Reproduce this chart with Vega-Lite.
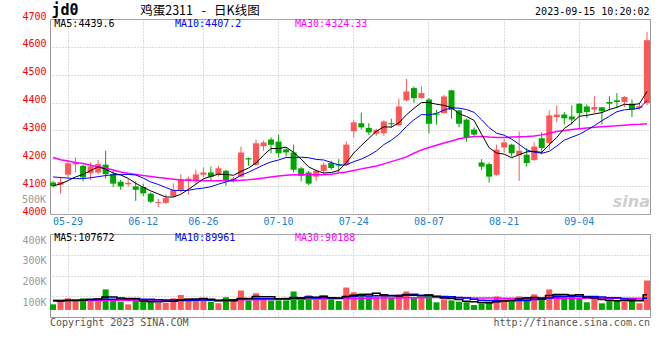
{
  "$schema": "https://vega.github.io/schema/vega-lite/v6.json",
  "autosize": {"type": "none"},
  "padding": {"left": 50, "top": 19, "right": 610, "bottom": 341},
  "background": "white",
  "bounds": "flush",
  "spacing": 20,
  "config": {
    "view": {"stroke": "#999999", "strokeWidth": 1},
    "axis": {"gridColor": "#b8b8b8", "gridDash": [1, 2], "gridWidth": 1, "ticks": false, "domain": false, "labelFont": "DejaVu Sans Mono", "labelFontSize": 10, "labelOverlap": false, "labelBound": false, "labelFlush": false},
    "text": {"font": "DejaVu Sans Mono", "fontSize": 10}
  },
  "datasets": {
    "k": [
      {"d":"05-25","o":4113,"h":4119,"l":4095,"c":4100,"v":61000,"m5":4101,"m10":4133,"m30":4203,"a5":78000,"a10":80000,"a30":80000},
      {"d":"05-26","o":4105,"h":4131,"l":4073,"c":4115,"v":80000,"m5":4108,"m10":4131,"m30":4195,"a5":77000,"a10":80000,"a30":80000},
      {"d":"05-29","o":4141,"h":4191,"l":4131,"c":4182,"v":90000,"m5":4120,"m10":4129,"m30":4190,"a5":79000,"a10":81000,"a30":80000},
      {"d":"05-30","o":4178,"h":4203,"l":4149,"c":4183,"v":85000,"m5":4133,"m10":4127,"m30":4185,"a5":80000,"a10":81000,"a30":80000},
      {"d":"05-31","o":4173,"h":4177,"l":4117,"c":4131,"v":90000,"m5":4142,"m10":4127,"m30":4181,"a5":81000,"a10":82000,"a30":80000},
      {"d":"06-01","o":4147,"h":4185,"l":4122,"c":4171,"v":80000,"m5":4156,"m10":4130,"m30":4175,"a5":85000,"a10":83000,"a30":80000},
      {"d":"06-02","o":4149,"h":4194,"l":4143,"c":4179,"v":90000,"m5":4169,"m10":4134,"m30":4170,"a5":87000,"a10":84000,"a30":80000},
      {"d":"06-05","o":4177,"h":4227,"l":4127,"c":4143,"v":133000,"m5":4161,"m10":4138,"m30":4165,"a5":96000,"a10":85000,"a30":81000},
      {"d":"06-06","o":4143,"h":4155,"l":4096,"c":4109,"v":85000,"m5":4147,"m10":4141,"m30":4158,"a5":96000,"a10":86000,"a30":81000},
      {"d":"06-07","o":4116,"h":4122,"l":4087,"c":4099,"v":74000,"m5":4140,"m10":4141,"m30":4151,"a5":92000,"a10":87000,"a30":81000},
      {"d":"06-08","o":4107,"h":4125,"l":4099,"c":4112,"v":61000,"m5":4128,"m10":4142,"m30":4146,"a5":89000,"a10":87000,"a30":81000},
      {"d":"06-09","o":4099,"h":4117,"l":4047,"c":4087,"v":90000,"m5":4110,"m10":4140,"m30":4142,"a5":89000,"a10":88000,"a30":81000},
      {"d":"06-12","o":4097,"h":4109,"l":4064,"c":4074,"v":75000,"m5":4096,"m10":4129,"m30":4138,"a5":77000,"a10":86000,"a30":81000},
      {"d":"06-13","o":4073,"h":4077,"l":4040,"c":4044,"v":75000,"m5":4083,"m10":4115,"m30":4135,"a5":75000,"a10":85000,"a30":81000},
      {"d":"06-14","o":4039,"h":4054,"l":4025,"c":4043,"v":69000,"m5":4072,"m10":4106,"m30":4131,"a5":74000,"a10":83000,"a30":81000},
      {"d":"06-15","o":4040,"h":4071,"l":4037,"c":4057,"v":69000,"m5":4061,"m10":4095,"m30":4128,"a5":76000,"a10":82000,"a30":81000},
      {"d":"06-16","o":4064,"h":4110,"l":4060,"c":4086,"v":90000,"m5":4061,"m10":4085,"m30":4125,"a5":76000,"a10":82000,"a30":81000},
      {"d":"06-19","o":4083,"h":4143,"l":4077,"c":4125,"v":106000,"m5":4071,"m10":4084,"m30":4122,"a5":82000,"a10":79000,"a30":82000},
      {"d":"06-20","o":4119,"h":4134,"l":4069,"c":4127,"v":90000,"m5":4088,"m10":4085,"m30":4121,"a5":85000,"a10":80000,"a30":82000},
      {"d":"06-21","o":4122,"h":4159,"l":4107,"c":4142,"v":82000,"m5":4107,"m10":4090,"m30":4120,"a5":87000,"a10":81000,"a30":82000},
      {"d":"06-26","o":4141,"h":4167,"l":4131,"c":4149,"v":77000,"m5":4126,"m10":4093,"m30":4119,"a5":89000,"a10":82000,"a30":82000},
      {"d":"06-27","o":4149,"h":4170,"l":4119,"c":4134,"v":74000,"m5":4135,"m10":4098,"m30":4119,"a5":86000,"a10":81000,"a30":82000},
      {"d":"06-28","o":4141,"h":4173,"l":4134,"c":4164,"v":66000,"m5":4143,"m10":4107,"m30":4119,"a5":78000,"a10":80000,"a30":82000},
      {"d":"06-29","o":4155,"h":4159,"l":4101,"c":4119,"v":95000,"m5":4142,"m10":4115,"m30":4119,"a5":79000,"a10":82000,"a30":82000},
      {"d":"06-30","o":4117,"h":4134,"l":4113,"c":4127,"v":77000,"m5":4139,"m10":4123,"m30":4120,"a5":78000,"a10":83000,"a30":82000},
      {"d":"07-03","o":4134,"h":4242,"l":4131,"c":4221,"v":128000,"m5":4153,"m10":4139,"m30":4121,"a5":88000,"a10":89000,"a30":83000},
      {"d":"07-04","o":4200,"h":4203,"l":4173,"c":4196,"v":80000,"m5":4165,"m10":4150,"m30":4123,"a5":89000,"a10":88000,"a30":83000},
      {"d":"07-05","o":4177,"h":4267,"l":4173,"c":4254,"v":114000,"m5":4183,"m10":4163,"m30":4126,"a5":99000,"a10":88000,"a30":83000},
      {"d":"07-06","o":4243,"h":4263,"l":4227,"c":4257,"v":85000,"m5":4211,"m10":4176,"m30":4129,"a5":97000,"a10":88000,"a30":84000},
      {"d":"07-07","o":4267,"h":4275,"l":4218,"c":4249,"v":80000,"m5":4235,"m10":4187,"m30":4133,"a5":97000,"a10":88000,"a30":84000},
      {"d":"07-10","o":4260,"h":4284,"l":4203,"c":4218,"v":80000,"m5":4235,"m10":4194,"m30":4136,"a5":88000,"a10":88000,"a30":85000},
      {"d":"07-11","o":4232,"h":4239,"l":4207,"c":4221,"v":80000,"m5":4240,"m10":4203,"m30":4139,"a5":88000,"a10":89000,"a30":85000},
      {"d":"07-12","o":4221,"h":4249,"l":4149,"c":4159,"v":123000,"m5":4221,"m10":4202,"m30":4141,"a5":90000,"a10":94000,"a30":86000},
      {"d":"07-13","o":4164,"h":4170,"l":4117,"c":4137,"v":85000,"m5":4197,"m10":4204,"m30":4141,"a5":90000,"a10":93000,"a30":86000},
      {"d":"07-14","o":4149,"h":4155,"l":4104,"c":4109,"v":104000,"m5":4169,"m10":4202,"m30":4141,"a5":94000,"a10":96000,"a30":87000},
      {"d":"07-17","o":4134,"h":4159,"l":4119,"c":4155,"v":85000,"m5":4156,"m10":4196,"m30":4141,"a5":95000,"a10":92000,"a30":87000},
      {"d":"07-18","o":4155,"h":4185,"l":4145,"c":4177,"v":104000,"m5":4147,"m10":4194,"m30":4141,"a5":100000,"a10":94000,"a30":88000},
      {"d":"07-19","o":4183,"h":4191,"l":4159,"c":4165,"v":85000,"m5":4149,"m10":4185,"m30":4143,"a5":93000,"a10":91000,"a30":88000},
      {"d":"07-20","o":4179,"h":4197,"l":4149,"c":4174,"v":77000,"m5":4156,"m10":4176,"m30":4147,"a5":91000,"a10":90000,"a30":88000},
      {"d":"07-21","o":4177,"h":4261,"l":4173,"c":4249,"v":142000,"m5":4184,"m10":4176,"m30":4151,"a5":99000,"a10":97000,"a30":89000},
      {"d":"07-24","o":4297,"h":4336,"l":4275,"c":4329,"v":119000,"m5":4219,"m10":4188,"m30":4156,"a5":105000,"a10":100000,"a30":89000},
      {"d":"07-25","o":4326,"h":4364,"l":4303,"c":4311,"v":114000,"m5":4246,"m10":4197,"m30":4162,"a5":107000,"a10":104000,"a30":90000},
      {"d":"07-26","o":4309,"h":4326,"l":4284,"c":4293,"v":98000,"m5":4271,"m10":4210,"m30":4167,"a5":110000,"a10":101000,"a30":90000},
      {"d":"07-27","o":4288,"h":4306,"l":4281,"c":4302,"v":98000,"m5":4297,"m10":4226,"m30":4172,"a5":114000,"a10":103000,"a30":91000},
      {"d":"07-28","o":4290,"h":4336,"l":4281,"c":4332,"v":106000,"m5":4313,"m10":4249,"m30":4180,"a5":107000,"a10":103000,"a30":91000},
      {"d":"07-31","o":4326,"h":4342,"l":4309,"c":4322,"v":93000,"m5":4312,"m10":4265,"m30":4188,"a5":102000,"a10":104000,"a30":92000},
      {"d":"08-01","o":4318,"h":4414,"l":4315,"c":4386,"v":109000,"m5":4327,"m10":4286,"m30":4196,"a5":101000,"a10":104000,"a30":92000},
      {"d":"08-02","o":4408,"h":4486,"l":4405,"c":4440,"v":123000,"m5":4356,"m10":4314,"m30":4205,"a5":106000,"a10":108000,"a30":93000},
      {"d":"08-03","o":4452,"h":4458,"l":4399,"c":4416,"v":93000,"m5":4379,"m10":4338,"m30":4218,"a5":105000,"a10":110000,"a30":93000},
      {"d":"08-04","o":4416,"h":4458,"l":4414,"c":4434,"v":98000,"m5":4400,"m10":4357,"m30":4230,"a5":103000,"a10":105000,"a30":93000},
      {"d":"08-07","o":4411,"h":4416,"l":4290,"c":4324,"v":109000,"m5":4400,"m10":4356,"m30":4239,"a5":106000,"a10":104000,"a30":94000},
      {"d":"08-08","o":4360,"h":4374,"l":4321,"c":4356,"v":71000,"m5":4394,"m10":4361,"m30":4247,"a5":99000,"a10":100000,"a30":94000},
      {"d":"08-09","o":4362,"h":4428,"l":4360,"c":4422,"v":85000,"m5":4390,"m10":4373,"m30":4255,"a5":91000,"a10":99000,"a30":94000},
      {"d":"08-10","o":4444,"h":4446,"l":4342,"c":4374,"v":80000,"m5":4382,"m10":4381,"m30":4262,"a5":89000,"a10":97000,"a30":94000},
      {"d":"08-11","o":4372,"h":4374,"l":4311,"c":4324,"v":74000,"m5":4360,"m10":4380,"m30":4270,"a5":84000,"a10":94000,"a30":93000},
      {"d":"08-14","o":4339,"h":4342,"l":4260,"c":4275,"v":71000,"m5":4350,"m10":4375,"m30":4275,"a5":76000,"a10":91000,"a30":93000},
      {"d":"08-15","o":4303,"h":4311,"l":4281,"c":4285,"v":58000,"m5":4336,"m10":4365,"m30":4278,"a5":74000,"a10":86000,"a30":92000},
      {"d":"08-16","o":4185,"h":4197,"l":4158,"c":4170,"v":66000,"m5":4286,"m10":4338,"m30":4278,"a5":70000,"a10":81000,"a30":92000},
      {"d":"08-17","o":4179,"h":4185,"l":4113,"c":4134,"v":74000,"m5":4238,"m10":4310,"m30":4276,"a5":69000,"a10":79000,"a30":91000},
      {"d":"08-18","o":4141,"h":4249,"l":4137,"c":4231,"v":99000,"m5":4219,"m10":4290,"m30":4275,"a5":74000,"a10":79000,"a30":91000},
      {"d":"08-21","o":4239,"h":4270,"l":4221,"c":4257,"v":91000,"m5":4215,"m10":4283,"m30":4275,"a5":78000,"a10":77000,"a30":90000},
      {"d":"08-22","o":4249,"h":4252,"l":4206,"c":4218,"v":74000,"m5":4202,"m10":4269,"m30":4276,"a5":81000,"a10":77000,"a30":90000},
      {"d":"08-23","o":4212,"h":4296,"l":4119,"c":4227,"v":99000,"m5":4213,"m10":4250,"m30":4277,"a5":87000,"a10":79000,"a30":90000},
      {"d":"08-24","o":4213,"h":4237,"l":4170,"c":4183,"v":95000,"m5":4223,"m10":4230,"m30":4278,"a5":92000,"a10":80000,"a30":89000},
      {"d":"08-25","o":4194,"h":4257,"l":4191,"c":4242,"v":109000,"m5":4225,"m10":4222,"m30":4280,"a5":94000,"a10":84000,"a30":89000},
      {"d":"08-28","o":4272,"h":4293,"l":4215,"c":4237,"v":84000,"m5":4221,"m10":4218,"m30":4284,"a5":92000,"a10":85000,"a30":89000},
      {"d":"08-29","o":4255,"h":4372,"l":4231,"c":4354,"v":133000,"m5":4249,"m10":4225,"m30":4290,"a5":104000,"a10":92000,"a30":90000},
      {"d":"08-30","o":4348,"h":4390,"l":4329,"c":4357,"v":114000,"m5":4275,"m10":4244,"m30":4296,"a5":107000,"a10":97000,"a30":90000},
      {"d":"08-31","o":4357,"h":4366,"l":4321,"c":4344,"v":98000,"m5":4307,"m10":4265,"m30":4300,"a5":108000,"a10":100000,"a30":90000},
      {"d":"09-01","o":4350,"h":4390,"l":4321,"c":4339,"v":98000,"m5":4326,"m10":4276,"m30":4303,"a5":105000,"a10":100000,"a30":90000},
      {"d":"09-04","o":4396,"h":4398,"l":4303,"c":4362,"v":93000,"m5":4351,"m10":4286,"m30":4306,"a5":107000,"a10":100000,"a30":90000},
      {"d":"09-05","o":4386,"h":4393,"l":4344,"c":4366,"v":71000,"m5":4354,"m10":4301,"m30":4309,"a5":95000,"a10":99000,"a30":90000},
      {"d":"09-06","o":4375,"h":4423,"l":4362,"c":4384,"v":93000,"m5":4359,"m10":4317,"m30":4311,"a5":91000,"a10":99000,"a30":90000},
      {"d":"09-07","o":4383,"h":4384,"l":4321,"c":4369,"v":66000,"m5":4364,"m10":4335,"m30":4313,"a5":84000,"a10":96000,"a30":90000},
      {"d":"09-08","o":4402,"h":4423,"l":4372,"c":4396,"v":80000,"m5":4375,"m10":4351,"m30":4315,"a5":81000,"a10":93000,"a30":90000},
      {"d":"09-11","o":4408,"h":4434,"l":4381,"c":4402,"v":82000,"m5":4383,"m10":4367,"m30":4317,"a5":78000,"a10":93000,"a30":90000},
      {"d":"09-12","o":4402,"h":4423,"l":4384,"c":4420,"v":75000,"m5":4394,"m10":4374,"m30":4319,"a5":79000,"a10":87000,"a30":90000},
      {"d":"09-13","o":4396,"h":4411,"l":4348,"c":4375,"v":88000,"m5":4392,"m10":4376,"m30":4321,"a5":78000,"a10":84000,"a30":90000},
      {"d":"09-14","o":4380,"h":4400,"l":4375,"c":4387,"v":66000,"m5":4396,"m10":4380,"m30":4322,"a5":78000,"a10":81000,"a30":90000},
      {"d":"09-15","o":4398,"h":4654,"l":4390,"c":4624,"v":176000,"m5":4439.6,"m10":4407.2,"m30":4324.33,"a5":107672,"a10":89961,"a30":90188}
    ]
  },
  "vconcat": [
    {
      "width": 600,
      "height": 195,
      "data": {"name": "k"},
      "encoding": {
        "x": {"field": "d", "type": "ordinal", "title": null,
          "scale": {"type": "band", "paddingInner": 0.2, "paddingOuter": 0},
          "axis": {"values": ["05-29","06-12","06-26","07-10","07-24","08-07","08-21","09-04"], "labelAngle": 0, "labelColor": "#1a7fd4", "labelPadding": 2, "labelOverlap": false, "grid": true}}
      },
      "layer": [
        {"mark": {"type": "rule", "strokeWidth": 1},
         "encoding": {
           "y": {"field": "l", "type": "quantitative", "title": null,
             "scale": {"domain": [4000, 4700], "nice": false, "zero": false},
             "axis": {"values": [4000,4100,4200,4300,4400,4500,4600,4700], "tickCount": 20, "format": "d", "labelOverlap": false, "labelColor": "#ff0000", "labelBaseline": "alphabetic", "labelPadding": 4, "grid": true}},
           "y2": {"field": "h"},
           "color": {"condition": {"test": "datum.c >= datum.o", "value": "#ff5757"}, "value": "#00a600"}}},
        {"mark": {"type": "bar"},
         "encoding": {
           "y": {"field": "o", "type": "quantitative", "title": null},
           "y2": {"field": "c"},
           "color": {"condition": {"test": "datum.c >= datum.o", "value": "#ff5757"}, "value": "#00a600"}}},
        {"mark": {"type": "line", "color": "#ff00ff", "strokeWidth": 1.5},
         "encoding": {"y": {"field": "m30", "type": "quantitative", "title": null}}},
        {"mark": {"type": "line", "color": "#0000ff", "strokeWidth": 1},
         "encoding": {"y": {"field": "m10", "type": "quantitative", "title": null}}},
        {"mark": {"type": "line", "color": "#000000", "strokeWidth": 1},
         "encoding": {"y": {"field": "m5", "type": "quantitative", "title": null}}},
        {"data": {"values": [{}]},
         "mark": {"type": "text", "text": "jd0", "font": "DejaVu Sans Mono", "fontSize": 15, "fontWeight": "bold", "align": "left", "baseline": "alphabetic", "dx": -1.5, "dy": -4, "color": "#000000"},
         "encoding": {"x": {"datum": "05-25"}, "y": {"datum": 4700}}},
        {"data": {"values": [{}]},
         "mark": {"type": "text", "text": "鸡蛋2311\u00a0\u00a0\u00a0-\u00a0\u00a0\u00a0日K线图", "font": "Noto Sans CJK SC", "fontSize": 12.5, "align": "left", "baseline": "alphabetic", "dx": -3, "dy": -4, "color": "#000000"},
         "encoding": {"x": {"datum": "06-12"}, "y": {"datum": 4700}}},
        {"data": {"values": [{}]},
         "mark": {"type": "text", "text": "2023-09-15 10:20:02", "align": "right", "baseline": "alphabetic", "dx": 2.5, "dy": -4, "color": "#000000"},
         "encoding": {"x": {"datum": "09-15"}, "y": {"datum": 4700}}},
        {"data": {"values": [{}]},
         "mark": {"type": "text", "text": "MA5:4439.6", "align": "left", "baseline": "middle", "dx": 1.3, "dy": 5, "color": "#000000"},
         "encoding": {"x": {"datum": "05-25"}, "y": {"datum": 4700}}},
        {"data": {"values": [{}]},
         "mark": {"type": "text", "text": "MA10:4407.2", "align": "left", "baseline": "middle", "dx": 1.7, "dy": 5, "color": "#0000ff"},
         "encoding": {"x": {"datum": "06-16"}, "y": {"datum": 4700}}},
        {"data": {"values": [{}]},
         "mark": {"type": "text", "text": "MA30:4324.33", "align": "left", "baseline": "middle", "dx": 1.4, "dy": 5, "color": "#ff00ff"},
         "encoding": {"x": {"datum": "07-12"}, "y": {"datum": 4700}}},
        {"data": {"values": [{}]},
         "mark": {"type": "text", "text": "500K", "align": "right", "baseline": "middle", "dx": -7, "color": "#999999"},
         "encoding": {"x": {"datum": "05-25"}, "y": {"datum": 4050}}},
        {"data": {"values": [{}]},
         "mark": {"type": "text", "text": "sina", "font": "DejaVu Sans", "fontSize": 16, "fontWeight": "bold", "fontStyle": "italic", "align": "right", "baseline": "alphabetic", "dx": 3, "color": "#cfcfcf"},
         "encoding": {"x": {"datum": "09-15"}, "y": {"datum": 4025}}}
      ]
    },
    {
      "width": 600,
      "height": 83,
      "data": {"name": "k"},
      "encoding": {
        "x": {"field": "d", "type": "ordinal", "title": null,
          "scale": {"type": "band", "paddingInner": 0.2, "paddingOuter": 0},
          "axis": {"values": ["05-29","06-12","06-26","07-10","07-24","08-07","08-21","09-04"], "labels": false, "grid": true}}
      },
      "layer": [
        {"mark": {"type": "bar"},
         "encoding": {
           "y": {"field": "v", "type": "quantitative", "title": null,
             "scale": {"domain": [0, 400000], "nice": false},
             "axis": {"values": [100000, 200000, 300000, 400000], "tickCount": 20, "labelExpr": "(datum.value / 1000) + 'K'", "labelOverlap": false, "labelColor": "#999999", "labelPadding": 4, "labelOffset": 6, "grid": true}},
           "y2": {"datum": 34000},
           "color": {"condition": {"test": "datum.c >= datum.o", "value": "#ff5757"}, "value": "#00a600"}}},
        {"mark": {"type": "line", "color": "#ff00ff", "strokeWidth": 1.5, "interpolate": "step"},
         "encoding": {"y": {"field": "a30", "type": "quantitative", "title": null}}},
        {"mark": {"type": "line", "color": "#0000ff", "strokeWidth": 1.5, "interpolate": "step"},
         "encoding": {"y": {"field": "a10", "type": "quantitative", "title": null}}},
        {"mark": {"type": "line", "color": "#000000", "strokeWidth": 1.5, "interpolate": "step"},
         "encoding": {"y": {"field": "a5", "type": "quantitative", "title": null}}},
        {"data": {"values": [{}]},
         "mark": {"type": "text", "text": "MA5:107672", "align": "left", "baseline": "middle", "dx": 1.3, "dy": 4, "color": "#000000"},
         "encoding": {"x": {"datum": "05-25"}, "y": {"datum": 400000}}},
        {"data": {"values": [{}]},
         "mark": {"type": "text", "text": "MA10:89961", "align": "left", "baseline": "middle", "dx": 1.7, "dy": 4, "color": "#0000ff"},
         "encoding": {"x": {"datum": "06-16"}, "y": {"datum": 400000}}},
        {"data": {"values": [{}]},
         "mark": {"type": "text", "text": "MA30:90188", "align": "left", "baseline": "middle", "dx": 1.4, "dy": 4, "color": "#ff00ff"},
         "encoding": {"x": {"datum": "07-12"}, "y": {"datum": 400000}}},
        {"data": {"values": [{}]},
         "mark": {"type": "text", "text": "Copyright 2023 SINA.COM", "align": "left", "baseline": "top", "dx": -3, "dy": 1, "color": "#555555"},
         "encoding": {"x": {"datum": "05-25"}, "y": {"datum": 0}}},
        {"data": {"values": [{}]},
         "mark": {"type": "text", "text": "http://finance.sina.com.cn", "align": "right", "baseline": "top", "dx": 3, "dy": 1, "color": "#555555"},
         "encoding": {"x": {"datum": "09-15"}, "y": {"datum": 0}}}
      ]
    }
  ]
}
